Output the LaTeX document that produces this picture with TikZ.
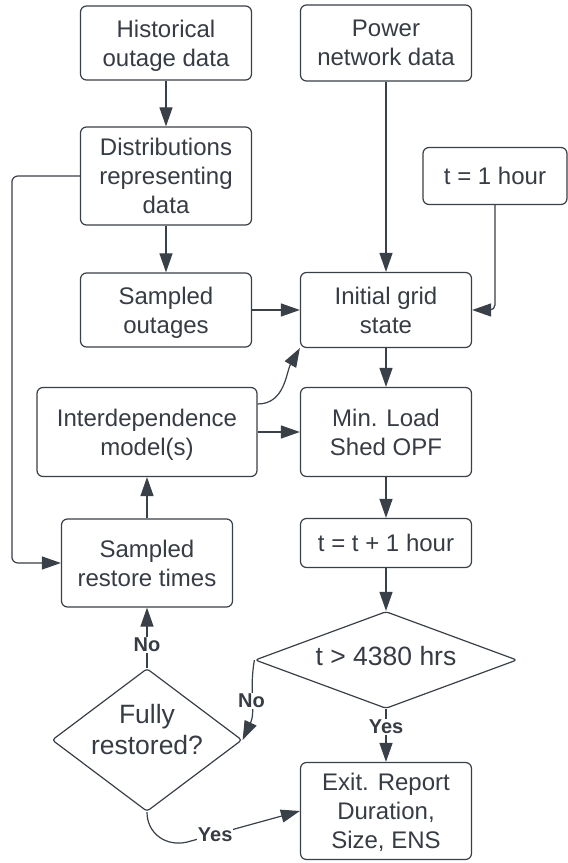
\documentclass[tikz,border=0pt]{standalone}
\usepackage{fontspec}
\setmainfont{Liberation Sans}
\usetikzlibrary{arrows.meta}
\usetikzlibrary{shapes.geometric}

\definecolor{lineclr}{RGB}{58,64,72}
\definecolor{textclr}{RGB}{55,60,68}

\tikzset{
  box/.style={draw=lineclr, line width=1.2pt, rounded corners=6pt, text=textclr,
    align=center, minimum width=171pt, inner sep=2pt, text depth=0pt,
    font=\fontsize{24}{28.8}\selectfont},
  decide/.style={diamond, draw=lineclr, line width=1.2pt, rounded corners=3pt,
    text=textclr, align=center, inner sep=0pt, text depth=0pt,
    font=\fontsize{26.5}{31.7}\selectfont},
  flow/.style={draw=lineclr, line width=1.2pt, -{Triangle[length=19pt,width=13pt]}},
  lbl/.style={fill=white, text=textclr, inner sep=1pt,
    font=\bfseries\fontsize{20}{24}\selectfont},
}

\begin{document}
\begin{tikzpicture}[x=1pt, y=1pt]

\fill[white] (0,0) rectangle (568,863);

\node[box, minimum height=74pt, text depth=-8pt] (hist) at (166,820) {Historical\\outage data};
\node[box, minimum height=76pt, text depth=-5pt] (power) at (386,820) {Power\\network data};
\node[box, minimum height=98pt, text depth=-13pt] (dist) at (166,687) {Distributions\\representing\\data};
\node[box, minimum width=144pt, minimum height=57pt] (hour1) at (495,687) {t = 1 hour};
\node[box, minimum height=74pt, text depth=-7pt] (sout) at (166,553) {Sampled\\outages};
\node[box, minimum height=75pt, text depth=-6pt] (init) at (386,553) {Initial grid\\state};
\node[box, minimum width=220pt, minimum height=89pt] (interdep) at (147,431) {Interdependence\\model(s)};
\node[box, minimum height=89pt] (minload) at (386,431) {Min. Load\\Shed OPF};
\node[box, minimum height=88pt] (srest) at (147,300) {Sampled\\restore times};
\node[box, minimum height=49pt] (tnext) at (386,320) {t = t + 1 hour};
\node[decide, aspect=2.7, minimum width=262pt, minimum height=97pt, text height=11pt] (tcheck) at (386,203) {t > 4380 hrs};
\node[decide, aspect=1.3, minimum width=190pt, minimum height=143pt, text height=30pt] (full) at (147,123) {Fully\\restored?};
\node[box, minimum height=97pt, text depth=-13pt] (exit) at (386,52) {Exit. Report\\Duration,\\Size, ENS};

\draw[flow] (hist) -- (dist);
\draw[flow] (power) -- (init);
\draw[flow] (dist) -- (sout);
\draw[flow, rounded corners=5pt] (hour1.south) |- (init.east);
\draw[flow] (sout) -- (init);
\draw[flow, rounded corners=6pt] (dist.west) -- ++(-68,0) |- (srest.west);

\draw[flow] ([yshift=28pt]interdep.east) to[out=0, in=-120] (init.south west);
\draw[flow] (interdep) -- (minload);
\draw[flow] (init) -- (minload);
\draw[flow] (minload) -- (tnext);
\draw[flow] (srest) -- (interdep);
\draw[flow] (tnext) -- (tcheck);

\draw[flow] (tcheck) -- node[lbl, pos=0.33] {Yes} (exit);
\draw[flow] (tcheck.west) to[out=-100, in=65] node[lbl, pos=0.5] {No} (full.east);
\draw[flow] (full) -- node[lbl, pos=0.38] {No} (srest);
\draw[flow] (full.south) to[out=-90, in=193, looseness=1.1] ++(40,-30)
  -- node[lbl, pos=0.25] {Yes} (exit.west);

\end{tikzpicture}
\end{document}
